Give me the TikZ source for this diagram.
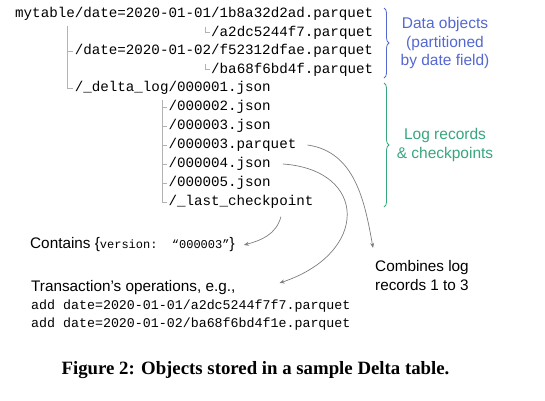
\documentclass[tikz,border=0pt]{standalone}
\usepackage{fontspec}
\setmainfont{Liberation Serif}
\setsansfont{Liberation Sans}
\setmonofont{Liberation Mono}
\usepackage{tikz}
\usetikzlibrary{positioning, arrows.meta, calc, decorations.pathreplacing}
\definecolor{dataBlue}{RGB}{84,104,208}
\definecolor{logGreen}{RGB}{56,166,124}
\definecolor{treeGray}{RGB}{178,178,178}
\definecolor{arrowGray}{RGB}{125,125,125}

\begin{document}
\begin{tikzpicture}[x=1pt, y=1pt]
		% Define styles
		\tikzset{
			file/.style={anchor=west, inner sep=0pt, text height=10pt, text depth=3pt, font=\fontsize{14.2}{18}\selectfont\ttfamily},
			op/.style={file, font=\fontsize{13.3}{16}\selectfont\ttfamily},
			note/.style={anchor=west, inner sep=0pt, align=left, font=\fontsize{15.3}{18.6}\selectfont\sffamily},
			tag/.style={align=center, inner sep=0pt, font=\fontsize{15.5}{18.4}\selectfont\sffamily},
			tree/.style={draw=treeGray, line width=0.7pt},
			line/.style={draw=arrowGray, line width=0.7pt, -{Stealth[length=5pt, width=4pt]}},
			brace/.style={decorate, decoration={brace, amplitude=5pt, aspect=0.5}, line width=0.8pt}
		}
		
		\useasboundingbox (0,0) rectangle (545,-400);
		
		% Nodes
		\node[file] (d1) at (15,-14) {mytable/date=2020-01-01/1b8a32d2ad.parquet};
		\node[file] (d2) at (211,-32.6) {/a2dc5244f7.parquet};
		\node[file] (d3) at (74.6,-51.2) {/date=2020-01-02/f52312dfae.parquet};
		\node[file] (d4) at (211,-69.8) {/ba68f6bd4f.parquet};
		\node[file] (l1) at (74.6,-88.4) {/\_delta\_log/000001.json};
		\node[file] (l2) at (168.3,-107) {/000002.json};
		\node[file, below=5.6pt of l2.south west, anchor=north west] (l3) {/000003.json};
		\node[file, below=5.6pt of l3.south west, anchor=north west] (l4) {/000003.parquet};
		\node[file, below=5.6pt of l4.south west, anchor=north west] (l5) {/000004.json};
		\node[file, below=5.6pt of l5.south west, anchor=north west] (l6) {/000005.json};
		\node[file, below=5.6pt of l6.south west, anchor=north west] (l7) {/\_last\_checkpoint};
		
		\node[tag, text=dataBlue] (dtag) at (445,-43) {Data objects\\(partitioned\\by date field)};
		\node[tag, text=logGreen] (ltag) at (445,-145) {Log records\\\& checkpoints};
		
		\node[note] (cont) at (30,-245) {Contains \{{\ttfamily\fontsize{12}{14}\selectfont version:~~“000003”}\}};
		\node[note] (ops) at (31,-288) {Transaction's operations, e.g.,};
		\node[op] (add1) at (31,-305.5) {add date=2020-01-01/a2dc5244f7f7.parquet};
		\node[op, below=5pt of add1.south west, anchor=north west] (add2) {add date=2020-01-02/ba68f6bd4f1e.parquet};
		\node[note] (comb) at (375,-275.5) {Combines log\\records 1 to 3};
		
		\node[font=\fontsize{18.8}{22}\selectfont\bfseries] (cap) at (255.5,-370) {Figure 2: Objects stored in a sample Delta table.};
		
		% Tree
		\draw[tree] ([xshift=-6pt, yshift=6pt]d2.west) |- ([xshift=-1.5pt]d2.west);
		\draw[tree] ([xshift=-6pt, yshift=6pt]d4.west) |- ([xshift=-1.5pt]d4.west);
		\draw[tree] ([xshift=-7.5pt]d3.west |- d2.north) |- ([xshift=-1.5pt]l1.west);
		\draw[tree] ([xshift=-7.5pt]d3.west) -- ([xshift=-1.5pt]d3.west);
		\draw[tree] ([xshift=-6pt, yshift=7pt]l2.west) |- ([xshift=-1.5pt]l7.west);
		\foreach \n in {l2,l3,l4,l5,l6}
			\draw[tree] ([xshift=-6pt]\n.west) -- ([xshift=-1.5pt]\n.west);
		
		% Braces
		\coordinate (dtop) at (384,-8);
		\coordinate (dbot) at (384,-78);
		\coordinate (ltop) at (384,-83);
		\coordinate (lbot) at (384,-207);
		\draw[brace, dataBlue] (dtop) -- (dbot);
		\draw[brace, logGreen] (ltop) -- (lbot);
		
		% Arrows
		\draw[line] ([xshift=40pt, yshift=-8pt]l7.south) to[out=-105, in=15] ([xshift=9pt]cont.east);
		\draw[line] ([xshift=12pt]l5.east) .. controls +(85,-6) and +(90,30) .. ([xshift=44pt, yshift=5pt]ops.east);
		\draw[line] ([xshift=11pt]l4.east) to[out=-8, in=100] ([xshift=-2pt, yshift=12.5pt]comb.north west);
	\end{tikzpicture}
\end{document}
